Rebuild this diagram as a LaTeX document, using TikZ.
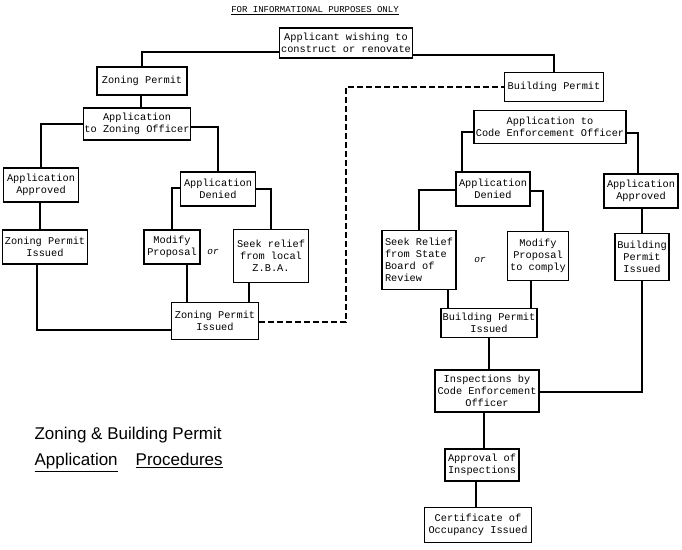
\documentclass[tikz,border=0pt]{standalone}
\usepackage{fontspec}
\setmainfont{Liberation Mono}
\newfontfamily\titlefont{Liberation Sans}
\begin{document}
\begin{tikzpicture}[x=1pt,y=-1pt,
  box/.style={draw,line width=1.2pt,align=center,inner sep=1pt,font=\fontsize{10.3}{12}\selectfont},
  ln/.style={line width=1.2pt},
  dsh/.style={line width=1.2pt,dash pattern=on 6pt off 3pt}]
\useasboundingbox (0,0) rectangle (682,549);
\node[font=\fontsize{9}{10}\selectfont] (hdr) at (315,11) {\underline{FOR INFORMATIONAL PURPOSES ONLY}};
\newcommand\bx[6]{\node[box,minimum width=#4,minimum height=#5] (#1) at (#2,#3) {#6};}
\bx{app}{346}{43}{133}{30}{Applicant wishing to\\construct or renovate}
\bx{zp}{142}{81}{90}{28}{Zoning Permit}
\bx{azo}{137}{124}{107}{32}{Application\\to Zoning Officer}
\bx{aal}{41}{185}{75}{34}{Application\\Approved}
\bx{adl}{218}{189}{75}{34}{Application\\Denied}
\bx{zpil}{45}{247}{85}{34}{Zoning Permit\\Issued}
\bx{mp}{172}{247}{56}{34}{Modify\\Proposal}
\bx{zba}{271}{256}{75}{53}{Seek relief\\from local\\Z.B.A.}
\bx{zpib}{215}{321}{87}{37}{Zoning Permit\\Issued}
\bx{bp}{554}{87}{99}{29}{Building Permit}
\bx{ace}{550}{127}{152}{33}{Application to\\Code Enforcement Officer}
\bx{adr}{493}{189}{74}{34}{Application\\Denied}
\bx{aar}{641}{191}{74}{34}{Application\\Approved}
\node[box,minimum width=74,minimum height=59,align=left] (ssb) at (419,260) {Seek Relief\\from State\\Board of\\Review};
\bx{mpc}{538}{256}{61}{49}{Modify\\Proposal\\to comply}
\bx{bpir}{642}{257}{54}{47}{Building\\Permit\\Issued}
\bx{bpim}{489}{323}{96}{29}{Building Permit\\Issued}
\bx{insp}{487}{391}{104}{42}{Inspections by\\Code Enforcement\\Officer}
\bx{apin}{482}{465}{74}{32}{Approval of\\Inspections}
\bx{cert}{478}{525}{107}{35}{Certificate of\\Occupancy Issued}
\node[font=\itshape\fontsize{9.5}{10}\selectfont] (or1) at (213,252) {or};
\node[font=\itshape\fontsize{9.5}{10}\selectfont] (or2) at (480,260) {or};
\node[font=\titlefont\fontsize{17}{26}\selectfont,align=left,anchor=north west] (ttl) at (31,424) {Zoning \& Building Permit\\\underline{Application}\hspace{18pt}\underline{Procedures}};
% connectors
\draw[ln] (app.west|-0,52) -| (zp.north);
\draw[ln] (app.east|-0,55) -| (bp.north);
\draw[ln] (zp.south-|141,0) -- (azo.north-|141,0);
\draw[ln] (azo.west|-0,124) -| (aal.north);
\draw[ln] (azo.east|-0,127) -| (adl.north);
\draw[ln] (aal.south-|40,0) -- (zpil.north-|40,0);
\draw[ln] (zpil.south-|37,0) |- (zpib.west|-0,330);
\draw[ln] (adl.west|-0,188) -| (mp.north);
\draw[ln] (adl.east|-0,189) -| (zba.north);
\draw[ln] (mp.south-|187,0) -- (zpib.north-|187,0);
\draw[ln] (zba.south-|249,0) -- (zpib.north-|249,0);
\coordinate (dc) at (346,322);
\draw[dsh] (zpib.east|-dc) -- (dc) |- (bp.west);
\draw[ln] (ace.west|-0,132) -| (adr.north-|462,0);
\draw[ln] (ace.east|-0,133) -| (aar.north-|638,0);
\draw[ln] (adr.west|-0,190) -| (ssb.north);
\draw[ln] (adr.east|-0,191) -| (mpc.north-|543,0);
\draw[ln] (aar.south-|642,0) -- (bpir.north-|642,0);
\draw[ln] (ssb.south-|448,0) -- (bpim.north-|448,0);
\draw[ln] (mpc.south-|531,0) -- (bpim.north-|531,0);
\draw[ln] (bpim.south-|489,0) -- (insp.north-|489,0);
\draw[ln] (bpir.south-|642,0) |- (insp.east|-0,392);
\draw[ln] (insp.south-|484,0) -- (apin.north-|484,0);
\draw[ln] (apin.south-|476,0) -- (cert.north-|476,0);
\end{tikzpicture}
\end{document}
